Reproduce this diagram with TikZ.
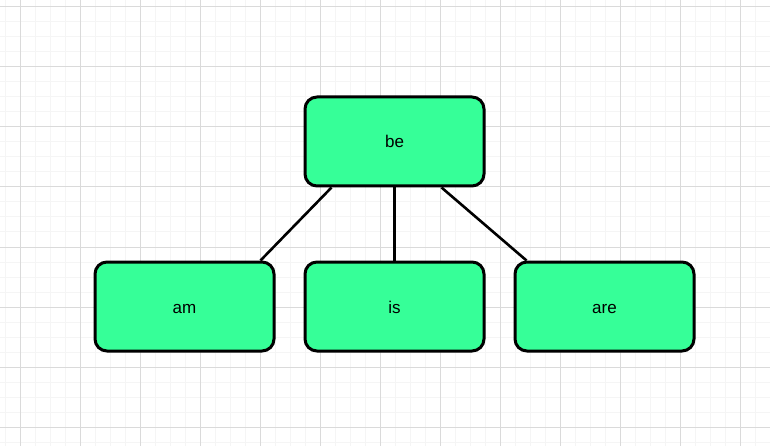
\documentclass[tikz,border=0pt]{standalone}
\usepackage{fontspec}
\setmainfont{Liberation Sans}
\definecolor{boxgreen}{RGB}{54,255,152}
\definecolor{minorline}{RGB}{245,245,245}
\definecolor{majorline}{RGB}{218,218,218}
\tikzset{
  wordbox/.style={draw=black, fill=boxgreen, line width=3pt, rounded corners=12pt,
    minimum width=179pt, minimum height=89pt, inner sep=0pt, text height=13pt, text depth=0pt,
    font=\fontsize{17}{20}\selectfont},
  link/.style={draw=black, line width=2.6pt}
}
\begin{document}
\begin{tikzpicture}[x=1pt,y=-1pt]
  \useasboundingbox (0,0) rectangle (770,446);
  \fill[white] (0,0) rectangle (770,446);
  % background grid
  \foreach \x in {5,20,...,770} \draw[minorline, line width=1pt] (\x,0) -- (\x,446);
  \foreach \y in {7,22,...,446} \draw[minorline, line width=1pt] (0,\y) -- (770,\y);
  \foreach \x in {20,80,...,770} \draw[majorline, line width=1pt] (\x,0) -- (\x,446);
  \foreach \y in {7,67,...,446} \draw[majorline, line width=1pt] (0,\y) -- (770,\y);
  % words
  \node[wordbox] (be) at (394.5,141.5) {be};
  \node[wordbox] (am) at (184.5,306.5) {am};
  \node[wordbox] (is) at (394.5,306.5) {is};
  \node[wordbox] (are) at (604.5,306.5) {are};
  % links
  \draw[link] ([xshift=28pt]be.south west) -- ([xshift=-15pt]am.north east);
  \draw[link] (be.south) -- (is.north);
  \draw[link] ([xshift=-44pt]be.south east) -- ([xshift=13pt]are.north west);
\end{tikzpicture}
\end{document}
